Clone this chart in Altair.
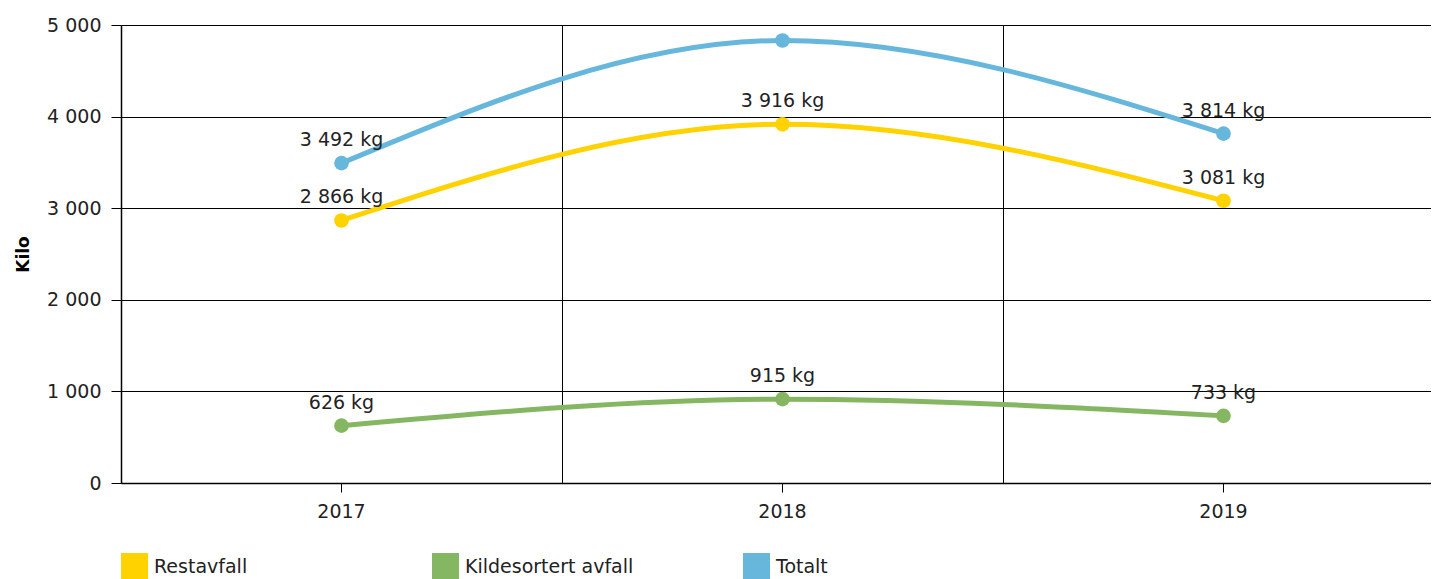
import altair as alt
import pandas as pd

years = ["2017", "2018", "2019"]
series = ["Restavfall", "Kildesortert avfall", "Totalt"]
restavfall = [2866, 3916, 3081]
kildesortert = [626, 915, 733]
totalt = [3492, 4831, 3814]
colors = ["#FFD200", "#85B762", "#67B7DC"]
y_ticks = [0, 1000, 2000, 3000, 4000, 5000]

rows = []
for s, vals in zip(series, [restavfall, kildesortert, totalt]):
    for yr, v in zip(years, vals):
        rows.append({"year": yr, "series": s, "value": v})
df = pd.DataFrame(rows)

FONT = "DejaVu Sans"
FS = 19

x_scale = alt.Scale(domain=years, range=[0, 1323], paddingInner=0, paddingOuter=0)
y_scale = alt.Scale(domain=[0, 5000], nice=False)
color_scale = alt.Scale(domain=series, range=colors)

legend = alt.Legend(
    title=None, orient="none", legendX=0, legendY=528, direction="horizontal",
    columns=3, symbolType="square", symbolSize=729, symbolStrokeWidth=0,
    labelFont=FONT, labelFontSize=19, labelColor="#222", labelOffset=6,
    gridAlign="all", columnPadding=109, padding=0, symbolOpacity=1,
    labelLimit=400,
)

y_axis = alt.Axis(
    values=y_ticks, format=",d", labelExpr="replace(datum.label, ',', ' ')",
    title="Kilo", titleFont=FONT, titleFontSize=17, titleFontWeight="bold",
    titleColor="#000", titlePadding=14,
    labelFont=FONT, labelFontSize=FS, labelColor="#222", labelPadding=10,
    tickSize=10, tickColor="#000", domainColor="#000", domainWidth=1.5,
    grid=True, gridColor="#000", gridWidth=1, gridOpacity=1,
)

x_axis_main = alt.Axis(
    orient="bottom", title=None, labelAngle=0, labelFont=FONT, labelFontSize=FS,
    labelColor="#222", labelPadding=10, tickSize=9, tickColor="#000",
    domainColor="#000", domainWidth=1.5, grid=False,
)
x_axis_grid = alt.Axis(
    orient="top", title=None, labels=False, ticks=False, domain=False,
    grid=True, tickBand="extent", gridColor="#000", gridWidth=1, gridOpacity=1,
)

base = alt.Chart(df)

lines = base.mark_line(interpolate="monotone", strokeWidth=5).encode(
    x=alt.X("year:N", scale=x_scale, sort=years, axis=x_axis_grid),
    y=alt.Y("value:Q", scale=y_scale, axis=y_axis),
    color=alt.Color("series:N", scale=color_scale, sort=series, legend=legend),
)

points = base.mark_circle(size=215, opacity=1).encode(
    x=alt.X("year:N", scale=x_scale, sort=years, axis=x_axis_main),
    y=alt.Y("value:Q", scale=y_scale),
    color=alt.Color("series:N", scale=color_scale, sort=series, legend=legend),
)

labels = base.transform_filter(
    "!(datum.series == 'Totalt' && datum.year == '2018')"
).transform_calculate(
    label="replace(format(datum.value, ','), ',', ' ') + ' kg'"
).mark_text(font=FONT, fontSize=FS, color="#222", baseline="middle", align="center", dy=-23).encode(
    x=alt.X("year:N", scale=x_scale, sort=years, axis=None),
    y=alt.Y("value:Q", scale=y_scale),
    text="label:N",
)

chart = alt.layer(lines, points, labels).resolve_axis(x="independent").properties(
    width=1310, height=458,
    autosize="none",
    padding={"left": 113, "top": 17, "right": 0, "bottom": 100},
).configure_view(stroke=None).configure(background="white")

chart.save("out.html", embed_options={"renderer": "svg", "actions": False})
